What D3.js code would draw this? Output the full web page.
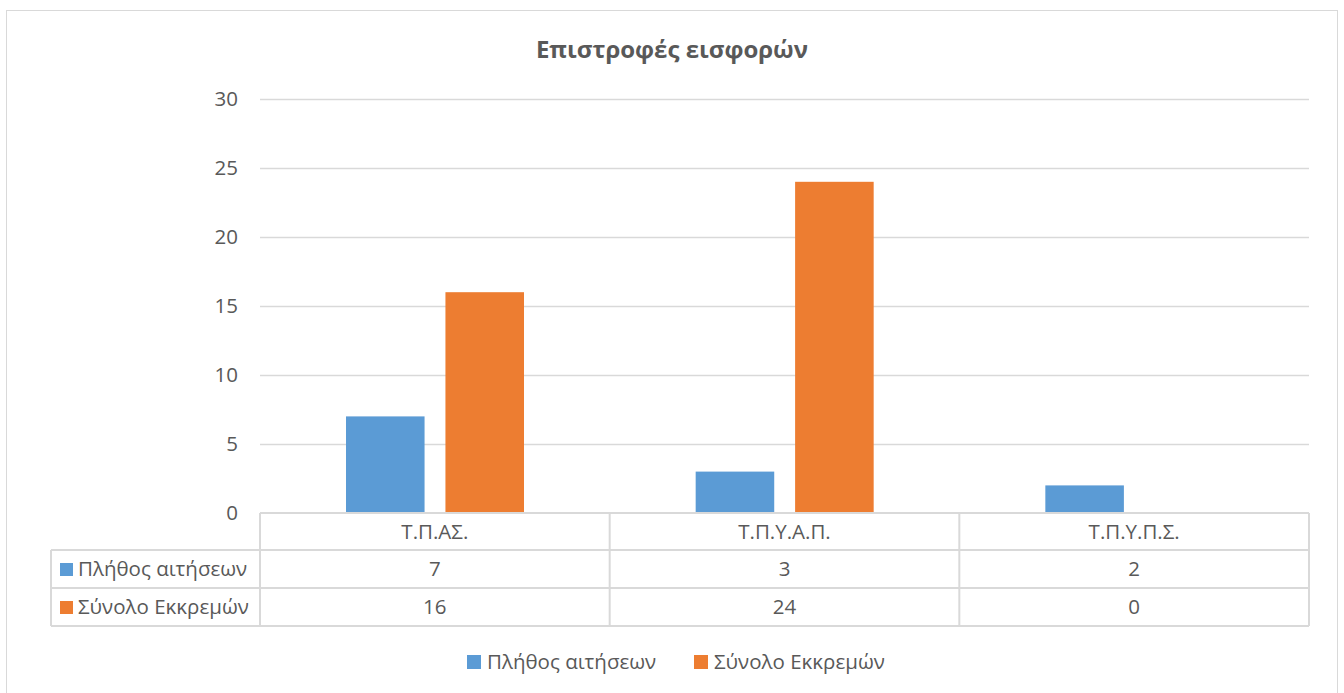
<!DOCTYPE html>
<html>
<head>
<meta charset="utf-8">
<script src="https://cdn.jsdelivr.net/npm/d3@7"></script>
<style>
  body { margin: 0; background: #fff; }
  svg text { font-family: "Open Sans", "Noto Sans", sans-serif; fill: #595959; }
</style>
</head>
<body>
<div class="chart"></div>
<script>
// chart data
const categories = ['Τ.Π.ΑΣ.', 'Τ.Π.Υ.Α.Π.', 'Τ.Π.Υ.Π.Σ.'];
const seriesNames = ['Πλήθος αιτήσεων', 'Σύνολο Εκκρεμών'];
const plithos = [7, 3, 2];
const synolo = [16, 24, 0];
const yTicks = [0, 5, 10, 15, 20, 25, 30];
const colors = ['#5b9bd5', '#ed7d31'];

const seriesValues = [plithos, synolo];

const width = 1344, height = 693;
const margin = { left: 260, right: 35, top: 99, plotBottom: 513 };
const gridColor = '#d9d9d9';
const fs = '20.5px';

const svg = d3.select('.chart')
    .append('svg')
    .attr('width', width)
    .attr('height', height);

// outer chart border
svg.append('rect')
    .attr('x', 6.5).attr('y', 10.5)
    .attr('width', 1331).attr('height', 700)
    .attr('fill', 'none')
    .attr('stroke', gridColor);

// title
svg.append('text')
    .attr('x', 672).attr('y', 58)
    .attr('text-anchor', 'middle')
    .style('font-size', '24px')
    .style('font-weight', 'bold')
    .text('Επιστροφές εισφορών');

const x0 = d3.scaleBand()
    .domain(categories)
    .range([margin.left, width - margin.right]);

const x1 = d3.scaleBand()
    .domain(seriesNames)
    .range([86, 264])
    .paddingInner(0.21);

const y = d3.scaleLinear()
    .domain([0, 30])
    .range([margin.plotBottom, margin.top]);

// gridlines
svg.append('g')
    .selectAll('line')
    .data(yTicks.filter(d => d > 0))
    .enter()
    .append('line')
    .attr('x1', margin.left)
    .attr('x2', width - margin.right)
    .attr('y1', d => Math.round(y(d)) + 0.5)
    .attr('y2', d => Math.round(y(d)) + 0.5)
    .attr('stroke', gridColor)
    .attr('stroke-width', 1.3);

// y axis labels
const yAxis = d3.axisLeft(y).tickValues(yTicks).tickSize(0).tickPadding(0);
const yg = svg.append('g')
    .attr('transform', `translate(${238},0)`)
    .call(yAxis);
yg.select('.domain').remove();
yg.selectAll('text')
    .style('font-size', fs)
    .style('font-family', '"Open Sans", "Noto Sans", sans-serif')
    .attr('fill', '#595959');

// bars
seriesNames.forEach((name, si) => {
  svg.append('g')
    .selectAll('rect')
    .data(categories)
    .enter()
    .append('rect')
    .attr('x', d => x0(d) + x1(name))
    .attr('width', x1.bandwidth())
    .attr('y', (d, i) => y(seriesValues[si][i]))
    .attr('height', (d, i) => y(0) - y(seriesValues[si][i]))
    .attr('fill', colors[si]);
});

// data table
const rowH = [37, 38, 38];
const rowTop = [513, 550, 588];
const tableBottom = 626;
const tableLeft = 51;
const tableRight = width - margin.right;
const table = svg.append('g')
    .attr('stroke', gridColor)
    .attr('stroke-width', 2)
    .attr('fill', 'none');

// horizontal lines
table.append('line').attr('x1', margin.left).attr('x2', tableRight).attr('y1', rowTop[0]).attr('y2', rowTop[0]);
[rowTop[1], rowTop[2], tableBottom].forEach(yy => {
  table.append('line').attr('x1', tableLeft).attr('x2', tableRight).attr('y1', yy).attr('y2', yy);
});
// vertical lines
table.append('line').attr('x1', tableLeft).attr('x2', tableLeft).attr('y1', rowTop[1]).attr('y2', tableBottom);
categories.forEach(c => {
  table.append('line').attr('x1', x0(c)).attr('x2', x0(c)).attr('y1', rowTop[0]).attr('y2', tableBottom);
});
table.append('line').attr('x1', tableRight).attr('x2', tableRight).attr('y1', rowTop[0]).attr('y2', tableBottom);

// header row
svg.append('g')
    .selectAll('text')
    .data(categories)
    .enter()
    .append('text')
    .attr('x', d => x0(d) + x0.bandwidth() / 2)
    .attr('y', rowTop[0] + rowH[0] / 2)
    .attr('dy', '0.35em')
    .attr('text-anchor', 'middle')
    .style('font-size', fs)
    .text(d => d);

// value rows
seriesNames.forEach((name, si) => {
  const ry = rowTop[si + 1] + rowH[si + 1] / 2;
  svg.append('rect')
    .attr('x', 60).attr('y', ry - 6)
    .attr('width', 13).attr('height', 13)
    .attr('fill', colors[si]);
  svg.append('text')
    .attr('x', 78).attr('y', ry)
    .attr('dy', '0.35em')
    .style('font-size', fs)
    .text(name);
  svg.append('g')
    .selectAll('text')
    .data(categories)
    .enter()
    .append('text')
    .attr('x', d => x0(d) + x0.bandwidth() / 2)
    .attr('y', ry)
    .attr('dy', '0.35em')
    .attr('text-anchor', 'middle')
    .style('font-size', fs)
    .text((d, i) => seriesValues[si][i]);
});

// legend
const legendX = [467, 694];
seriesNames.forEach((name, si) => {
  svg.append('rect')
    .attr('x', legendX[si]).attr('y', 655)
    .attr('width', 14).attr('height', 14)
    .attr('fill', colors[si]);
  svg.append('text')
    .attr('x', legendX[si] + 20).attr('y', 662)
    .attr('dy', '0.35em')
    .style('font-size', fs)
    .text(name);
});
</script>
</body>
</html>
